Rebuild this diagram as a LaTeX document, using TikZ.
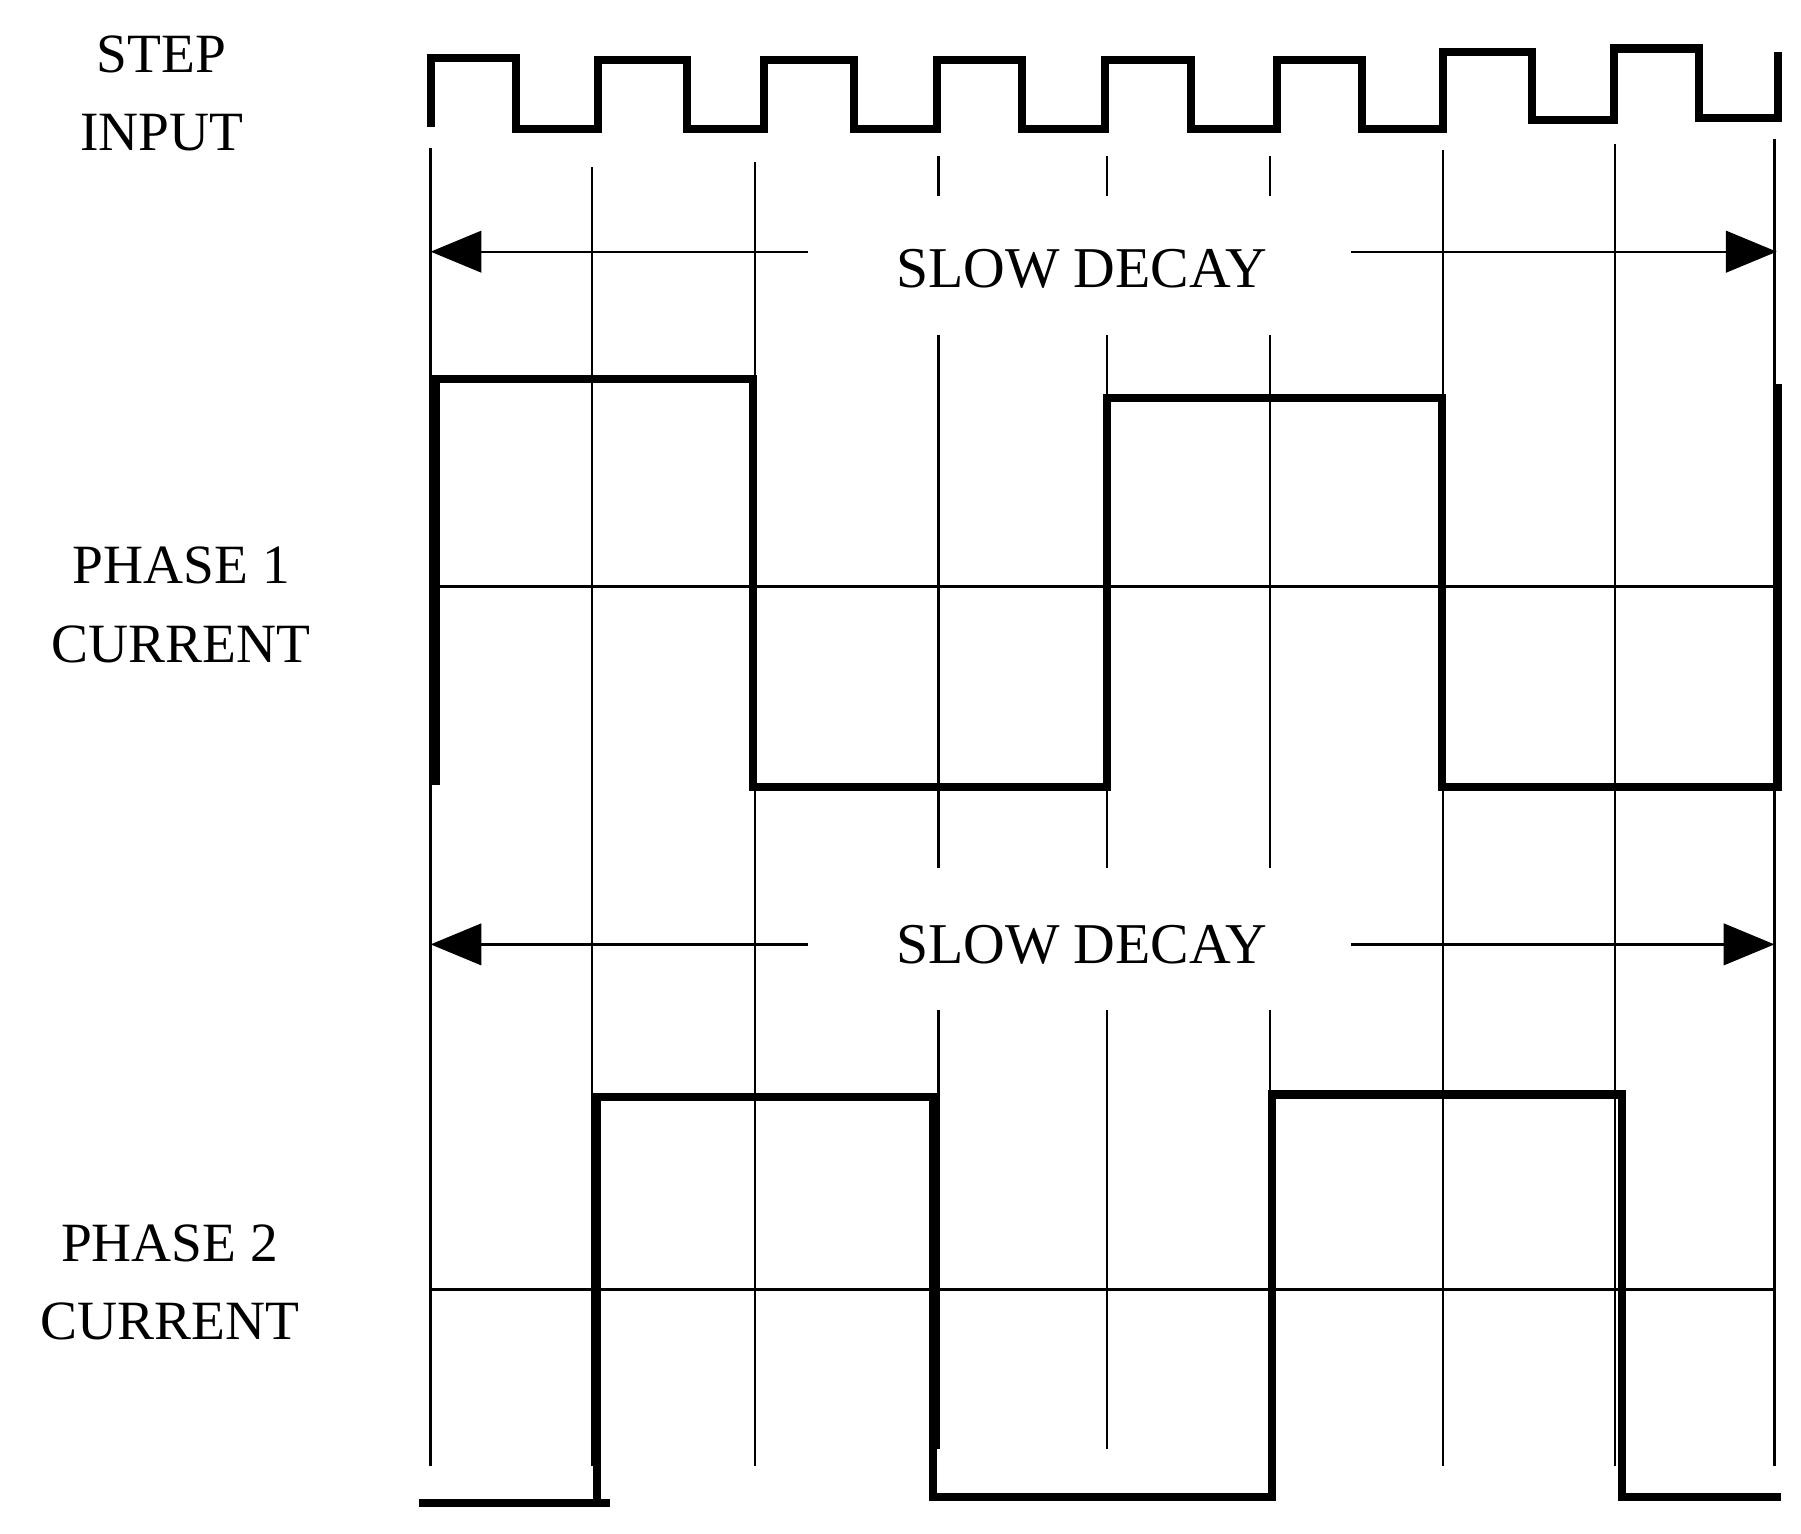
\documentclass[tikz,border=0pt]{standalone}
\usepackage{fontspec}
\setmainfont{Liberation Serif}
\usetikzlibrary{arrows.meta}
\begin{document}
\begin{tikzpicture}[x=0.5pt,y=-0.5pt,
  thin line/.style={line width=1pt},
  thick line/.style={line width=3.5pt},
  lbl/.style={font=\fontsize{24}{24}\selectfont,align=center,inner sep=0pt},
  dec/.style={font=\fontsize{25}{25}\selectfont,inner sep=0pt},
  arr/.style={line width=1pt,-{Triangle[length=22pt,width=18pt]}}]
\useasboundingbox[fill=white] (0,0) rectangle (1560,1328);
% labels
\node[lbl] (s1) at (140,47) {STEP};
\node[lbl] (s2) at (140,115) {INPUT};
\node[lbl] (p1) at (157,490) {PHASE 1};
\node[lbl] (c1) at (157,558) {CURRENT};
\node[lbl] (p2) at (147,1077) {PHASE 2};
\node[lbl] (c2) at (147,1145) {CURRENT};
% vertical grid lines
\foreach \x/\t in {373/128,513/145,654/140,1250/130,1399/125,1537/120}
  \draw[thin line] (\x,\t) -- (\x,1270);
\foreach \x in {813,959,1100}{
  \draw[thin line] (\x,135) -- (\x,170);
  \draw[thin line] (\x,290) -- (\x,752);
  \draw[thin line] (\x,875) -- (\x,1255);
}
% mid lines
\draw[thin line] (373,508) -- (1537,508);
\draw[thin line] (373,1117) -- (1537,1117);
% slow decay arrows
\node[dec] (d1) at (937,233) {SLOW DECAY};
\coordinate (a1l) at (373,218); \coordinate (a1r) at (1539,218);
\coordinate (a1m) at (700,218); \coordinate (a1n) at (1170,218);
\draw[arr] (a1m) -- (a1l);
\draw[arr] (a1n) -- (a1r);
\node[dec] (d2) at (937,818) {SLOW DECAY};
\coordinate (a2l) at (373,818); \coordinate (a2r) at (1537,818);
\coordinate (a2m) at (700,818); \coordinate (a2n) at (1170,818);
\draw[arr] (a2m) -- (a2l);
\draw[arr] (a2n) -- (a2r);
% step input
\draw[thick line] (373,110) -- (373,50) -- (447,50) -- (447,112) -- (518,112) -- (518,52)
 -- (595,52) -- (595,112) -- (662,112) -- (662,52) -- (740,52) -- (740,112) -- (812,112)
 -- (812,52) -- (885,52) -- (885,112) -- (957,112) -- (957,52) -- (1032,52) -- (1032,112)
 -- (1106,112) -- (1106,52) -- (1180,52) -- (1180,112) -- (1250,112) -- (1250,45)
 -- (1327,45) -- (1327,104) -- (1398,104) -- (1398,42) -- (1472,42) -- (1472,102)
 -- (1540,102) -- (1540,45);
% phase 1
\draw[thick line] (378,680) -- (378,328) -- (652,328) -- (652,682) -- (959,682) -- (959,345)
 -- (1249,345) -- (1249,682) -- (1540,682) -- (1540,333);
% phase 2
\draw[thick line] (363,1302) -- (528,1302);
\draw[thick line] (517,1302) -- (517,950) -- (808,950) -- (808,1297) -- (1102,1297)
 -- (1102,948) -- (1405,948) -- (1405,1297) -- (1543,1297);
\end{tikzpicture}
\end{document}
